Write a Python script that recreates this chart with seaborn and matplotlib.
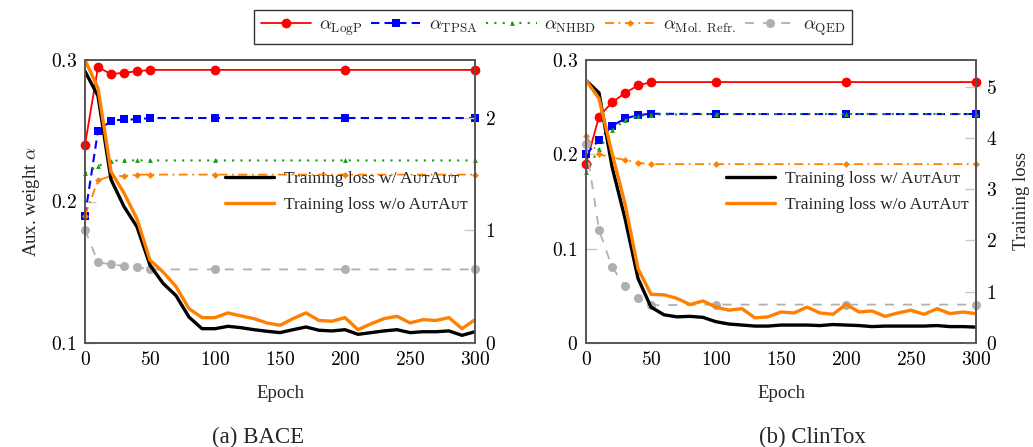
import numpy as np
import pandas as pd
import seaborn as sns
import matplotlib
matplotlib.use("Agg")
import matplotlib.pyplot as plt
from matplotlib.ticker import FuncFormatter

# ---------------- data ----------------
alpha_epochs = [0, 10, 20, 30, 40, 50, 100, 200, 300]
loss_epochs = list(range(0, 301, 10))

# BACE
bace_logp = [0.240, 0.295, 0.290, 0.291, 0.292, 0.293, 0.293, 0.293, 0.293]
bace_tpsa = [0.190, 0.250, 0.257, 0.258, 0.258, 0.259, 0.259, 0.259, 0.259]
bace_nhbd = [0.220, 0.225, 0.2288, 0.229, 0.229, 0.229, 0.229, 0.229, 0.229]
bace_molr = [0.190, 0.215, 0.218, 0.218, 0.219, 0.219, 0.219, 0.219, 0.219]
bace_qed = [0.180, 0.157, 0.1555, 0.1545, 0.1535, 0.152, 0.152, 0.152, 0.152]
bace_loss_w = [2.41, 2.19, 1.45, 1.21, 1.03, 0.69, 0.53, 0.42, 0.23, 0.127,
               0.127, 0.148, 0.136, 0.118, 0.104, 0.092, 0.118, 0.142, 0.113, 0.107,
               0.118, 0.077, 0.092, 0.107, 0.118, 0.092, 0.10, 0.10, 0.107, 0.068, 0.10]
bace_loss_wo = [2.51, 2.26, 1.52, 1.33, 1.10, 0.735, 0.63, 0.50, 0.305, 0.225,
                0.225, 0.267, 0.24, 0.216, 0.178, 0.157, 0.216, 0.267, 0.20, 0.193,
                0.225, 0.118, 0.17, 0.216, 0.237, 0.178, 0.207, 0.20, 0.225, 0.127, 0.207]

# ClinTox
clin_logp = [0.1896, 0.240, 0.255, 0.265, 0.273, 0.2766, 0.2766, 0.2766, 0.2766]
clin_tpsa = [0.200, 0.215, 0.230, 0.238, 0.2416, 0.243, 0.2427, 0.2427, 0.2427]
clin_nhbd = [0.181, 0.206, 0.2257, 0.236, 0.2406, 0.242, 0.2427, 0.2427, 0.2427]
clin_molr = [0.219, 0.200, 0.1967, 0.194, 0.191, 0.1896, 0.1896, 0.1896, 0.1896]
clin_qed = [0.2105, 0.120, 0.0805, 0.0605, 0.048, 0.040, 0.0407, 0.0407, 0.0407]
clin_loss_w = [5.12, 4.88, 3.44, 2.43, 1.26, 0.70, 0.55, 0.51, 0.52, 0.50,
               0.415, 0.37, 0.35, 0.33, 0.33, 0.35, 0.35, 0.35, 0.34, 0.36,
               0.35, 0.34, 0.32, 0.33, 0.33, 0.33, 0.33, 0.34, 0.32, 0.32, 0.31]
clin_loss_wo = [5.12, 4.77, 3.70, 2.72, 1.45, 0.95, 0.94, 0.87, 0.75, 0.82,
                0.70, 0.64, 0.67, 0.49, 0.51, 0.605, 0.586, 0.70, 0.586, 0.56,
                0.755, 0.605, 0.625, 0.52, 0.586, 0.64, 0.56, 0.67, 0.573, 0.605, 0.573]

alpha_names = [r'$\alpha_{\mathrm{LogP}}$', r'$\alpha_{\mathrm{TPSA}}$',
               r'$\alpha_{\mathrm{NHBD}}$', r'$\alpha_{\mathrm{Mol.\ Refr.}}$',
               r'$\alpha_{\mathrm{QED}}$']
loss_names = ['Training loss w/ AᴜᴛAᴜᴛ', 'Training loss w/o AᴜᴛAᴜᴛ']
captions = ['(a) BACE', '(b) ClinTox']

left_ticks = [[0.1, 0.2, 0.3], [0, 0.1, 0.2, 0.3]]
right_ticks = [[0, 1, 2], [0, 1, 2, 3, 4, 5]]
x_ticks = [0, 50, 100, 150, 200, 250, 300]

# ---------------- style ----------------
sns.set_theme(style="white")
plt.rcParams['font.family'] = ['Liberation Serif', 'DejaVu Serif']
plt.rcParams['mathtext.fontset'] = 'cm'

styles = [
    dict(color='#ff0000', linestyle='-', marker='o', markersize=7, lw=1.3),
    dict(color='#0000ff', linestyle=(0, (4, 2.5)), marker='s', markersize=5.5, lw=1.5),
    dict(color='#1a9c1a', linestyle=(0, (1, 3)), marker='^', markersize=3.5, lw=1.5),
    dict(color='#ff8000', linestyle=(0, (5, 2.5, 1, 2.5)), marker='D', markersize=3.5, lw=1.3),
    dict(color='#b0b0b0', linestyle=(0, (5, 5)), marker='o', markersize=6.5, lw=1.3),
]
loss_colors = ['black', '#ff8000']

fig = plt.figure(figsize=(10.33, 4.47), dpi=100)
W, H = 1033, 447
ax_l = fig.add_axes([85 / W, 1 - 343 / H, 390 / W, 283 / H])
ax_r = fig.add_axes([586 / W, 1 - 343 / H, 390 / W, 283 / H])

panels = [
    (ax_l, [bace_logp, bace_tpsa, bace_nhbd, bace_molr, bace_qed],
     [bace_loss_w, bace_loss_wo], (0.1, 0.3), (0, 2.51)),
    (ax_r, [clin_logp, clin_tpsa, clin_nhbd, clin_molr, clin_qed],
     [clin_loss_w, clin_loss_wo], (0, 0.3), (0, 5.52)),
]

fmt = FuncFormatter(lambda v, p: f'${v:g}$')
tick_kw = dict(direction='in', length=8, width=1, color='#c8c8c8', labelsize=14,
               labelcolor='black')
handles_alpha = None
for i, (ax, alphas, losses, ylim, y2lim) in enumerate(panels):
    ax2 = ax.twinx()
    for name, vals, st in zip(alpha_names, alphas, styles):
        df = pd.DataFrame({'epoch': alpha_epochs, 'val': vals})
        sns.lineplot(data=df, x='epoch', y='val', ax=ax, color=st['color'],
                     linestyle=st['linestyle'], marker=st['marker'],
                     markersize=st['markersize'], linewidth=st['lw'],
                     markeredgewidth=0, clip_on=False, label=name, legend=False)
    hs = ax.get_lines()
    for name, vals, c in zip(loss_names, losses, loss_colors):
        df = pd.DataFrame({'epoch': loss_epochs, 'val': vals})
        sns.lineplot(data=df, x='epoch', y='val', ax=ax2, color=c, linewidth=2.4,
                     label=name, legend=False)
    ax.set_xlim(0, 300)
    ax.set_ylim(*ylim)
    ax2.set_ylim(*y2lim)
    ax.set_xticks(x_ticks)
    ax.set_yticks(left_ticks[i])
    ax2.set_yticks(right_ticks[i])
    for a in (ax, ax2):
        a.xaxis.set_major_formatter(fmt)
        a.yaxis.set_major_formatter(fmt)
        a.tick_params(**tick_kw)
        a.set_xlabel('')
        a.set_ylabel('')
        for s in a.spines.values():
            s.set_color('#555555')
            s.set_linewidth(1.2)
    ax.tick_params(axis='x', pad=6)
    ax.tick_params(axis='y', pad=6)
    ax2.tick_params(axis='y', pad=7)
    ax.set_xlabel('Epoch', fontsize=13.5, labelpad=11)
    leg = ax2.legend(loc='upper left', bbox_to_anchor=(0.32, 0.665), frameon=False,
                     fontsize=12.5, handlelength=2.8, handletextpad=0.6,
                     labelspacing=0.6)
    handles_alpha = hs

ax_l.set_ylabel(r'Aux. weight $\alpha$', fontsize=13.5, labelpad=6)
fig.text(1022 / W, 1 - 201 / H, 'Training loss', rotation=90, fontsize=13.5,
         ha='center', va='center')

fig.text(258 / W, 1 - 437 / H, captions[0], fontsize=16.5, ha='center', va='center')
fig.text(812 / W, 1 - 437 / H, captions[1], fontsize=16.5, ha='center', va='center')

lg = fig.legend(handles_alpha, alpha_names, loc='upper center', ncol=5,
                bbox_to_anchor=(553 / W, 1 - 10 / H), borderaxespad=0,
                frameon=True, fancybox=False,
                edgecolor='black', fontsize=13.5, handlelength=2.7, columnspacing=0.45,
                handletextpad=0.4, borderpad=0.35)
lg.get_frame().set_linewidth(1.0)

fig.savefig('out.png', dpi=100)
